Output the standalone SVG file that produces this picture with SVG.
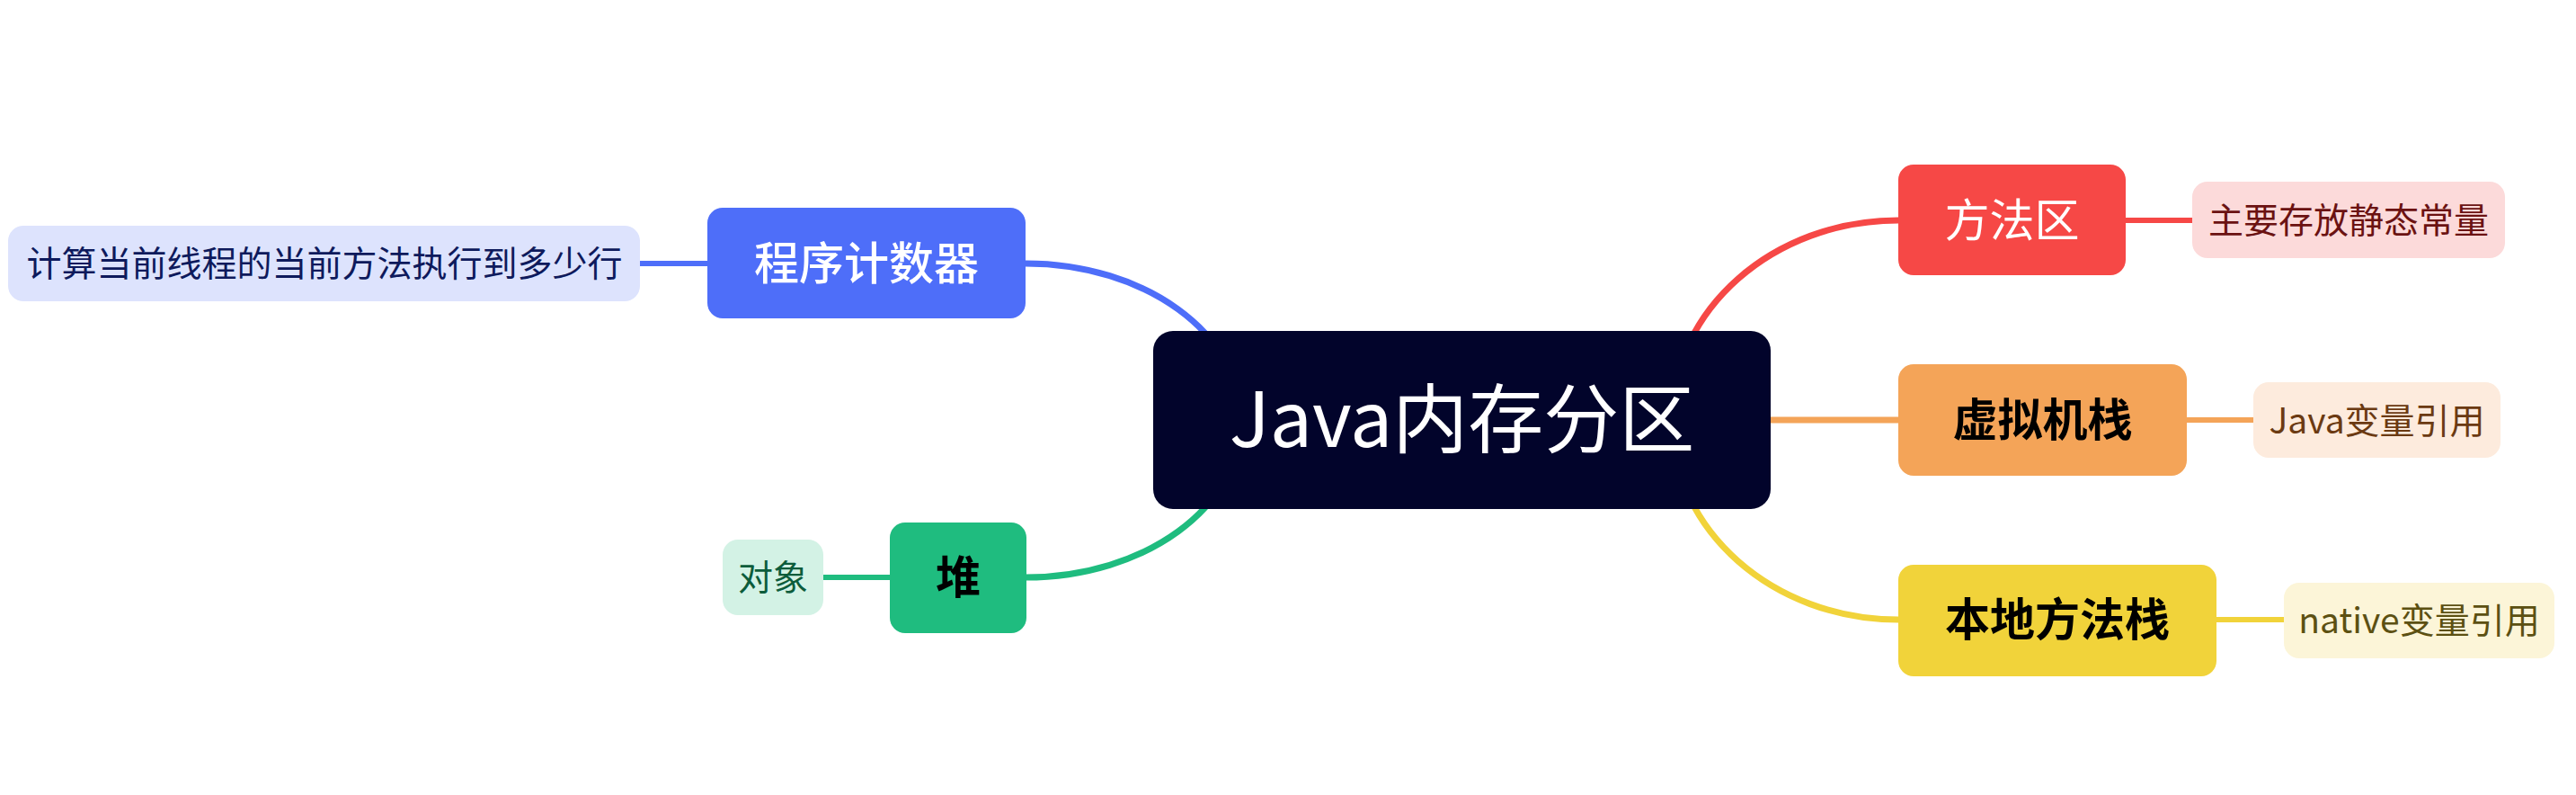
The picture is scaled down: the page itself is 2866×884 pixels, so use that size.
<svg xmlns="http://www.w3.org/2000/svg" width="2866" height="884" viewBox="0 0 2866 884">
<style>
text{font-family:"Noto Sans CJK SC","Noto Sans",sans-serif;text-anchor:middle}
.main{font-size:50px}
.leaf{font-size:39px}
.br{fill:none;stroke-width:7;stroke-linecap:butt}
.lk{fill:none;stroke-width:6}
</style>
<rect width="2866" height="884" fill="#ffffff"/>
<g id="connectors">
<path class="br" stroke="#4E6EF9" d="M1141,293 C1274,293 1381,371 1381,467"/>
<path class="br" stroke="#1FBC7F" d="M1141,642 C1274,642 1381,564 1381,467"/>
<path class="br" stroke="#F64846" d="M2112,245 C1973,245 1860,344 1860,467"/>
<path class="br" stroke="#F4A458" d="M1970,467 L2112,467"/>
<path class="br" stroke="#F1D33A" d="M2112,689 C1973,689 1860,590 1860,467"/>
<path class="lk" stroke="#4E6EF9" d="M712,293 L787,293"/>
<path class="lk" stroke="#1FBC7F" d="M916,642 L990,642"/>
<path class="lk" stroke="#F64846" d="M2365,245 L2439,245"/>
<path class="lk" stroke="#F4A458" d="M2433,467 L2507,467"/>
<path class="lk" stroke="#F1D33A" d="M2466,689 L2541,689"/>
</g>
<g id="center">
<rect x="1283" y="368" width="687" height="198" rx="22" fill="#02042B"/>
<text x="1626.5" y="497" font-size="84" fill="#ffffff">Java内存分区</text>
</g>
<g id="pc">
<rect x="787" y="231" width="354" height="123" rx="17" fill="#4E6EF9"/>
<text class="main" x="964" y="311" fill="#ffffff" font-weight="500">程序计数器</text>
</g>
<g id="pc-leaf">
<rect x="9" y="251" width="703" height="84" rx="17" fill="#DDE3FD"/>
<text class="leaf" x="361" y="307" fill="#0E1A5C">计算当前线程的当前方法执行到多少行</text>
</g>
<g id="heap">
<rect x="990" y="581" width="152" height="123" rx="17" fill="#1FBC7F"/>
<text class="main" x="1066" y="660" fill="#000000" font-weight="700">堆</text>
</g>
<g id="heap-leaf">
<rect x="804" y="600" width="112" height="84" rx="17" fill="#D3F2E5"/>
<text class="leaf" x="860" y="656" fill="#0C5C3B">对象</text>
</g>
<g id="method">
<rect x="2112" y="183" width="253" height="123" rx="17" fill="#F64846"/>
<text class="main" x="2238.5" y="263" fill="#ffffff">方法区</text>
</g>
<g id="method-leaf">
<rect x="2439" y="202" width="348" height="85" rx="17" fill="#FCDADA"/>
<text class="leaf" x="2613" y="259" fill="#6B1212">主要存放静态常量</text>
</g>
<g id="vmstack">
<rect x="2112" y="405" width="321" height="124" rx="17" fill="#F4A458"/>
<text class="main" x="2272.5" y="485" fill="#000000" font-weight="700">虚拟机栈</text>
</g>
<g id="vmstack-leaf">
<rect x="2507" y="425" width="275" height="84" rx="17" fill="#FDEBDD"/>
<text class="leaf" x="2644.5" y="482" fill="#6B3A12">Java变量引用</text>
</g>
<g id="native">
<rect x="2112" y="628" width="354" height="124" rx="17" fill="#F1D33A"/>
<text class="main" x="2289" y="707" fill="#000000" font-weight="700">本地方法栈</text>
</g>
<g id="native-leaf">
<rect x="2541" y="648" width="301" height="84" rx="17" fill="#FCF5D8"/>
<text class="leaf" x="2691.5" y="704" fill="#5C5012">native变量引用</text>
</g>
</svg>
